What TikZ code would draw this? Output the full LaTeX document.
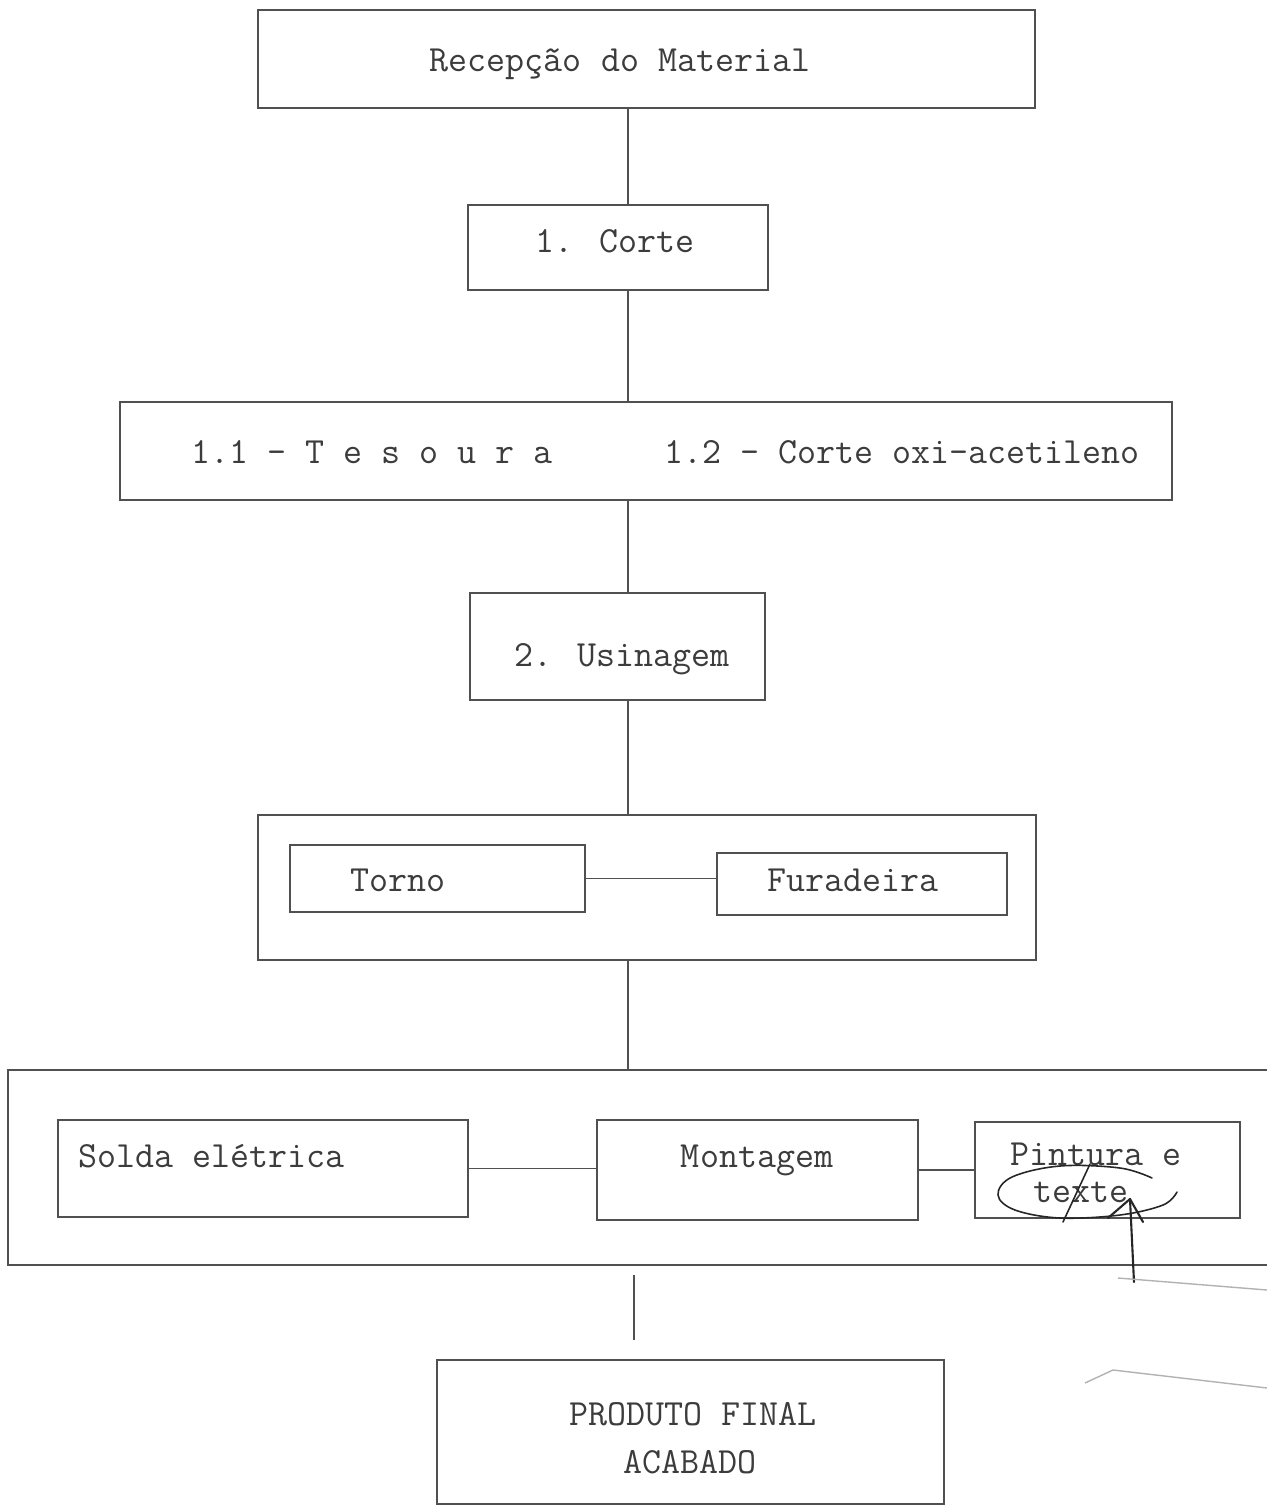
\documentclass[tikz,border=0pt]{standalone}
\usetikzlibrary{fit}
\definecolor{ink}{HTML}{505050}
\definecolor{typ}{HTML}{3c3c3c}
\begin{document}
\begin{tikzpicture}[x=0.02cm,y=-0.02cm,
  box/.style={draw=ink,line width=1.1pt,inner sep=0pt},
  lbl/.style={text=typ,font=\ttfamily\fontsize{21}{25}\selectfont,inner sep=0pt,text height=13pt,text depth=0pt},
  conn/.style={draw=ink,line width=1pt},
  pen/.style={draw=black!85,line width=1.2pt,line cap=round,line join=round},
  patch/.style={draw=black!30,line width=0.8pt}]
\useasboundingbox (0,0) rectangle (1267,1509);

% boxes
\node[box,fit={(258,10) (1035,108)}] (rec) {};
\node[box,fit={(468,205) (768,290)}] (corte) {};
\node[box,fit={(120,402) (1172,500)}] (tes) {};
\node[box,fit={(470,593) (765,700)}] (usi) {};
\node[box,fit={(258,815) (1036,960)}] (grp1) {};
\node[box,fit={(290,845) (585,912)}] (torno) {};
\node[box,fit={(717,853) (1007,915)}] (fur) {};
\node[inner sep=0pt,fit={(8,1070) (1267,1265)}] (grp2) {};
\draw[box] (grp2.north east) -- (grp2.north west) -- (grp2.south west) -- (grp2.south east);
\node[box,fit={(58,1120) (468,1217)}] (solda) {};
\node[box,fit={(597,1120) (918,1220)}] (mont) {};
\node[box,fit={(975,1122) (1240,1218)}] (pint) {};
\node[box,fit={(437,1360) (944,1504)}] (prod) {};

% labels
\node[lbl] (trec) at (620,60) {Recepção do Material};
\node[lbl] (tcorte) at (615,241) {1. Corte};
\node[lbl,anchor=west] (ttes1) at (191,452) {1.1 - T e s o u r a};
\node[lbl,anchor=east] (ttes2) at (1140,452) {1.2 - Corte oxi-acetileno};
\node[lbl] (tusi) at (622,655) {2. Usinagem};
\node[lbl] (ttorno) at (398,880) {Torno};
\node[lbl] (tfur) at (853,880) {Furadeira};
\node[lbl,anchor=west] (tsolda) at (78,1156) {Solda elétrica};
\node[lbl] (tmont) at (757,1156) {Montagem};
\node[anchor=north west,inner sep=0pt,text=typ,align=left,
      font=\ttfamily\fontsize{21}{20.8}\selectfont] (tpint) at (1010,1143)
      {Pintura e\\\hspace*{0.46cm}texte};
\node[lbl] (tprod1) at (693,1414) {PRODUTO FINAL};
\node[lbl] (tprod2) at (690,1462) {ACABADO};

% connectors
\coordinate (spine) at (628,0);
\draw[conn] (rec.south -| spine) -- (corte.north -| spine);
\draw[conn] (corte.south -| spine) -- (tes.north -| spine);
\draw[conn] (tes.south -| spine) -- (usi.north -| spine);
\draw[conn] (usi.south -| spine) -- (grp1.north -| spine);
\draw[conn] (grp1.south -| spine) -- (grp2.north -| spine);
\draw[conn] (torno.east) -- (torno.east -| fur.west);
\draw[conn] (solda.east) -- (solda.east -| mont.west);
\draw[conn] (mont.east) -- (mont.east -| pint.west);
\coordinate (b1) at (634,1275);
\coordinate (b2) at (634,1340);
\draw[conn] (b1) -- (b2);

% hand annotation
\draw[pen,line width=0.9pt] plot[smooth,tension=0.6] coordinates {(1152,1178) (1120,1168) (1060,1166) (1012,1177) (998,1195) (1015,1210) (1060,1218) (1120,1215) (1163,1205) (1177,1192)};
\draw[pen,line width=0.9pt] (1090,1164) -- (1063,1222);
\coordinate (arrB) at (1134,1282);
\coordinate (arrT) at (1130,1199);
\draw[pen] (arrB) -- (arrT);
\draw[pen] (1108,1218) -- (arrT) -- (1143,1222);

% pasted paper edges
\draw[patch] (1118,1278) -- (1267,1290);
\draw[patch] (1085,1383) -- (1113,1370) -- (1267,1388);
\end{tikzpicture}
\end{document}
